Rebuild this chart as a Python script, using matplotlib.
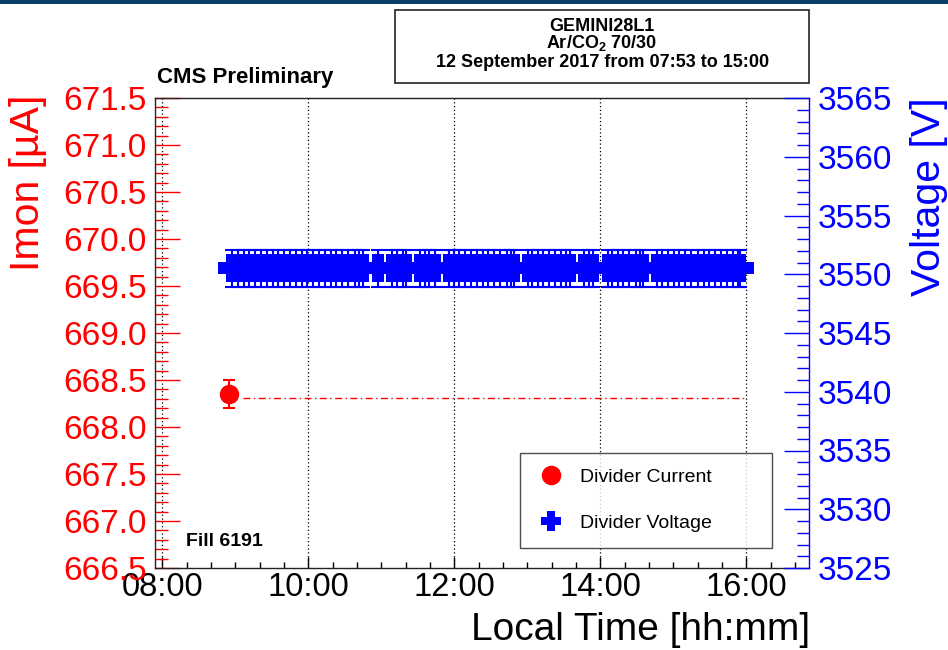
import matplotlib
matplotlib.use('Agg')
import matplotlib.pyplot as plt
from matplotlib.lines import Line2D
from matplotlib.patches import Rectangle
from matplotlib.path import Path
from matplotlib.ticker import MultipleLocator, FuncFormatter

plt.rcParams['font.family'] = ['Liberation Sans', 'DejaVu Sans']
plt.rcParams['mathtext.fontset'] = 'custom'
plt.rcParams['mathtext.rm'] = 'Liberation Sans'
plt.rcParams['mathtext.bf'] = 'Liberation Sans:bold'

# divider current (one reading) and its mean line
current_time = ['08:55']
current_val = [668.35]
current_err = [0.15]
current_mean = 668.31
mean_span = ['09:06', '15:58']

# divider voltage readings
voltage_time = ['08:57', '09:02', '09:07', '09:11', '09:16', '09:21', '09:26', '09:31',
                '09:35', '09:40', '09:45', '09:50', '09:55', '09:59', '10:04', '10:09',
                '10:14', '10:19', '10:23', '10:28', '10:33', '10:38', '10:42', '10:45',
                '10:57', '11:09', '11:13', '11:18', '11:20', '11:32', '11:36', '11:39',
                '11:44', '11:56', '12:00', '12:04', '12:09', '12:14', '12:19', '12:24',
                '12:28', '12:33', '12:38', '12:43', '12:47', '12:49', '13:01', '13:04',
                '13:09', '13:13', '13:18', '13:23', '13:28', '13:32', '13:35', '13:47',
                '13:51', '13:54', '14:06', '14:10', '14:15', '14:19', '14:24', '14:29',
                '14:33', '14:35', '14:47', '14:51', '14:56', '15:01', '15:05', '15:10',
                '15:15', '15:20', '15:25', '15:29', '15:34', '15:39', '15:44', '15:49',
                '15:53', '15:55']
voltage_val = [3550.5, 3550.5, 3550.5, 3550.5, 3550.5, 3550.5, 3550.5, 3550.5,
               3550.5, 3550.5, 3550.5, 3550.5, 3550.5, 3550.5, 3550.5, 3550.5,
               3550.5, 3550.5, 3550.5, 3550.5, 3550.5, 3550.5, 3550.5, 3550.5,
               3550.5, 3550.5, 3550.5, 3550.5, 3550.5, 3550.5, 3550.5, 3550.5,
               3550.5, 3550.5, 3550.5, 3550.5, 3550.5, 3550.5, 3550.5, 3550.5,
               3550.5, 3550.5, 3550.5, 3550.5, 3550.5, 3550.5, 3550.5, 3550.5,
               3550.5, 3550.5, 3550.5, 3550.5, 3550.5, 3550.5, 3550.5, 3550.5,
               3550.5, 3550.5, 3550.5, 3550.5, 3550.5, 3550.5, 3550.5, 3550.5,
               3550.5, 3550.5, 3550.5, 3550.5, 3550.5, 3550.5, 3550.5, 3550.5,
               3550.5, 3550.5, 3550.5, 3550.5, 3550.5, 3550.5, 3550.5, 3550.5,
               3550.5, 3550.5]
voltage_err = 1.55

hour_ticks = [8, 10, 12, 14, 16]


def to_hours(s):
    h, m = s.split(':')
    return int(h) + int(m) / 60.0


def hhmm(x, pos=None):
    h = int(x)
    m = int(round((x - h) * 60))
    return '%02d:%02d' % (h, m)


# thick cross like the ROOT full-cross marker
a, b = 0.21, 0.5
cross = Path([(-a, -b), (a, -b), (a, -a), (b, -a), (b, a), (a, a), (a, b),
              (-a, b), (-a, a), (-b, a), (-b, -a), (-a, -a), (-a, -b)],
             [Path.MOVETO] + [Path.LINETO] * 11 + [Path.CLOSEPOLY])

RED = '#ff0000'
BLUE = '#0000ff'

fig = plt.figure(figsize=(9.48, 6.5), dpi=100)
ax = fig.add_axes([155 / 948, 1 - 568 / 650, (809 - 155) / 948, (568 - 98) / 650])
ax2 = ax.twinx()

# current axis
ax.errorbar([to_hours(t) for t in current_time], current_val, yerr=current_err,
            fmt='o', color=RED, ms=13, elinewidth=1.5, capsize=4, capthick=1.5, zorder=3)
ax.plot([to_hours(t) for t in mean_span], [current_mean, current_mean], color=RED,
        lw=1, dashes=(5, 2.5, 1, 2.5), zorder=2)
ax.set_xlim(7.9, 16.86)
ax.set_ylim(666.5, 671.5)
ax.yaxis.set_major_locator(MultipleLocator(0.5))
ax.yaxis.set_minor_locator(MultipleLocator(0.1))
ax.yaxis.set_major_formatter(FuncFormatter(lambda v, p: '%.1f' % v))
ax.set_xticks(hour_ticks)
ax.xaxis.set_minor_locator(MultipleLocator(1 / 3))
ax.xaxis.set_major_formatter(FuncFormatter(hhmm))
ax.tick_params(axis='y', which='both', direction='in', colors=RED, labelsize=24, pad=6)
ax.tick_params(axis='y', which='major', length=18, width=1)
ax.tick_params(axis='y', which='minor', length=9, width=1)
ax.tick_params(axis='x', which='both', direction='in', labelsize=23.5, pad=3)
ax.tick_params(axis='x', which='major', length=8, width=1)
ax.tick_params(axis='x', which='minor', length=4.5, width=1)
ax.grid(axis='x', which='major', color='black', ls=(0, (1, 2)), lw=0.9)
for s in ['left', 'top', 'bottom']:
    ax.spines[s].set_color('#222222')
    ax.spines[s].set_linewidth(1)
ax.spines['right'].set_visible(False)

# voltage axis
ax2.errorbar([to_hours(t) for t in voltage_time], voltage_val, yerr=voltage_err,
             fmt='none', ecolor=BLUE, elinewidth=1.5, capsize=5, capthick=1.5)
ax2.plot([to_hours(t) for t in voltage_time], voltage_val, ls='none', marker=cross,
         color=BLUE, ms=20, mew=0)
ax2.set_ylim(3525, 3565)
ax2.yaxis.set_major_locator(MultipleLocator(5))
ax2.yaxis.set_minor_locator(MultipleLocator(1))
ax2.tick_params(axis='y', which='both', direction='in', colors=BLUE, labelsize=24, pad=6.5)
ax2.tick_params(axis='y', which='major', length=18, width=1)
ax2.tick_params(axis='y', which='minor', length=9, width=1)
for s in ['left', 'top', 'bottom']:
    ax2.spines[s].set_visible(False)
ax2.spines['right'].set_color(BLUE)
ax2.spines['right'].set_linewidth(1)

handles = [Line2D([], [], ls='none', marker='o', color=RED, ms=13),
           Line2D([], [], ls='none', marker=cross, color=BLUE, ms=15, mew=0)]
leg = ax2.legend(handles, ['Divider Current', 'Divider Voltage'], loc='upper left',
                 bbox_to_anchor=(520 / 948, 1 - 547 / 650, 252 / 948, 94 / 650),
                 bbox_transform=fig.transFigure, mode='expand', fontsize=14,
                 frameon=True, fancybox=False, borderaxespad=0, borderpad=0.8,
                 handlelength=1.6, handletextpad=0.7, labelspacing=1.46)
leg.get_frame().set_edgecolor('#222222')
leg.get_frame().set_linewidth(1)

# axis titles
fig.text(28 / 948, 1 - 95 / 650, 'Imon [µA]', color=RED, fontsize=29.5,
         rotation=90, ha='center', va='top')
fig.text(929 / 948, 1 - 97 / 650, 'Voltage [V]', color=BLUE, fontsize=29.5,
         rotation=90, ha='center', va='top')
fig.text(810 / 948, 1 - 640 / 650, 'Local Time [hh:mm]', fontsize=28,
         ha='right', va='baseline')

fig.text(157 / 948, 1 - 83 / 650, 'CMS Preliminary', fontsize=16,
         fontweight='bold', ha='left', va='baseline')
fig.text(186 / 948, 1 - 546 / 650, 'Fill 6191', fontsize=14,
         fontweight='bold', ha='left', va='baseline')

# info box at the top
fig.patches.append(Rectangle((395 / 948, 1 - 83 / 650), 414 / 948, 73 / 650,
                             transform=fig.transFigure, fill=False,
                             edgecolor='#222222', lw=1.2))
fig.text(602 / 948, 1 - 31 / 650, 'GEMINI28L1', fontsize=13, fontweight='bold',
         ha='center', va='baseline')
fig.text(602 / 948, 1 - 48 / 650, r'Ar/CO$_\mathbf{2}$ 70/30', fontsize=13,
         fontweight='bold', ha='center', va='baseline')
fig.text(603 / 948, 1 - 67 / 650, '12 September 2017 from 07:53 to 15:00',
         fontsize=13, fontweight='bold', ha='center', va='baseline')

# dark strip along the top edge
fig.patches.append(Rectangle((0, 1 - 4 / 650), 1, 4 / 650, transform=fig.transFigure,
                             color='#0b3d6b', lw=0))

fig.savefig('out.png', dpi=100)
